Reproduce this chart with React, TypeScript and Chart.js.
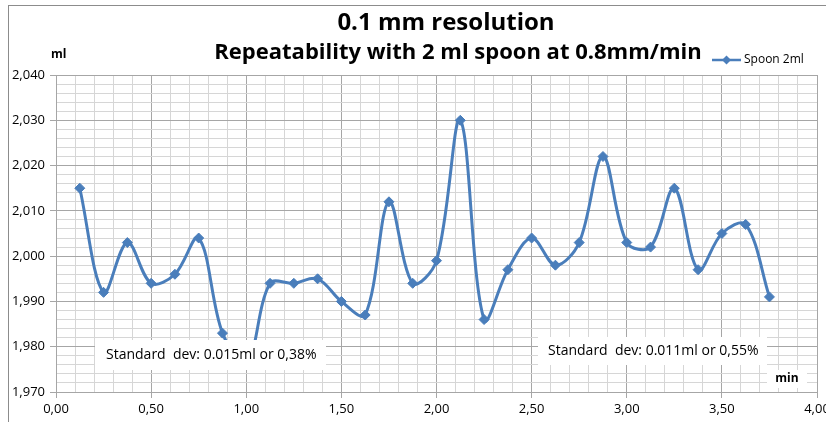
import React, { useEffect, useRef } from 'react';
import { Chart, registerables } from 'chart.js';

Chart.register(...registerables);

const times = [
  0.125, 0.25, 0.375, 0.5, 0.625, 0.75, 0.875, 1.0, 1.125, 1.25,
  1.375, 1.5, 1.625, 1.75, 1.875, 2.0, 2.125, 2.25, 2.375, 2.5,
  2.625, 2.75, 2.875, 3.0, 3.125, 3.25, 3.375, 3.5, 3.625, 3.75,
];
const volumes = [
  2.015, 1.992, 2.003, 1.994, 1.996, 2.004, 1.983, 1.976, 1.994, 1.994,
  1.995, 1.990, 1.987, 2.012, 1.994, 1.999, 2.030, 1.986, 1.997, 2.004,
  1.998, 2.003, 2.022, 2.003, 2.002, 2.015, 1.997, 2.005, 2.007, 1.991,
];
const titleLines = ['0.1 mm resolution', 'Repeatability with 2 ml spoon at 0.8mm/min'];
const seriesName = 'Spoon 2ml';
const yUnit = 'ml';
const xUnit = 'min';
const notes = ['Standard  dev: 0.015ml or 0,38%', 'Standard  dev: 0.011ml or 0,55%'];

const FONT = '"Open Sans", "Liberation Sans", sans-serif';
const BLUE = '#4a7ebb';
const MAJOR = '#a6a6a6';
const MINOR = '#d6d6d6';

const isMajorX = (v: number) => Math.round(v * 10) % 5 === 0;
const isMajorY = (v: number) => Math.round(v * 1000) % 10 === 0;

export default function App() {
  const ref = useRef<HTMLCanvasElement | null>(null);

  useEffect(() => {
    document.body.style.margin = '0';
    const canvas = ref.current;
    if (!canvas) return;

    const overlay = {
      id: 'overlay',
      afterDraw(chart: any) {
        const ctx = chart.ctx as CanvasRenderingContext2D;
        ctx.save();
        // outer frame
        ctx.strokeStyle = '#8c8c8c';
        ctx.lineWidth = 1;
        ctx.strokeRect(8.5, 5.5, 1000, 1000);

        // title
        ctx.fillStyle = '#000';
        ctx.textAlign = 'center';
        ctx.textBaseline = 'middle';
        ctx.font = `bold 24px ${FONT}`;
        ctx.fillText(titleLines[0], 446, 23);
        ctx.font = `bold 22px ${FONT}`;
        ctx.fillText(titleLines[1], 458, 53);

        // legend
        ctx.strokeStyle = BLUE;
        ctx.lineWidth = 2.5;
        ctx.beginPath();
        ctx.moveTo(712, 60);
        ctx.lineTo(741, 60);
        ctx.stroke();
        ctx.fillStyle = BLUE;
        ctx.beginPath();
        ctx.moveTo(726.5, 55.5);
        ctx.lineTo(731, 60);
        ctx.lineTo(726.5, 64.5);
        ctx.lineTo(722, 60);
        ctx.closePath();
        ctx.fill();
        ctx.fillStyle = '#000';
        ctx.textAlign = 'left';
        ctx.font = `12px ${FONT}`;
        ctx.fillText(seriesName, 744, 60);

        // y unit
        ctx.font = `bold 12px ${FONT}`;
        ctx.fillText(yUnit, 51, 55);

        // notes
        ctx.font = `14px ${FONT}`;
        ctx.fillStyle = '#fff';
        ctx.fillRect(95, 340, 231, 30);
        ctx.fillRect(538, 337, 229, 28);
        ctx.fillStyle = '#000';
        ctx.fillText(notes[0], 106, 355);
        ctx.fillText(notes[1], 548, 351);

        // x unit
        ctx.fillStyle = '#fff';
        ctx.fillRect(767, 370, 40, 18);
        ctx.fillStyle = '#000';
        ctx.font = `bold 12px ${FONT}`;
        ctx.textAlign = 'center';
        ctx.fillText(xUnit, 787, 379);
        ctx.restore();
      },
    };

    const chart = new Chart(canvas, {
      type: 'line',
      data: {
        datasets: [
          {
            label: seriesName,
            data: times.map((t, i) => ({ x: t, y: volumes[i] })),
            borderColor: BLUE,
            backgroundColor: BLUE,
            borderWidth: 3,
            tension: 0.35,
            pointStyle: 'rectRot',
            pointRadius: 5,
            pointBackgroundColor: BLUE,
            pointBorderColor: BLUE,
            pointBorderWidth: 1,
            clip: false as any,
          },
        ],
      },
      options: {
        animation: false,
        responsive: false,
        devicePixelRatio: 1,
        layout: { padding: { top: 75, left: 0, right: 9, bottom: 0 } },
        plugins: {
          legend: { display: false },
          title: { display: false },
          tooltip: { enabled: false },
        },
        scales: {
          x: {
            type: 'linear',
            min: 0,
            max: 4,
            afterFit: (s: any) => { s.height = 30; s.paddingRight = 0; s.paddingLeft = 0; },
            border: { color: MAJOR, width: 1 },
            grid: {
              color: (c: any) => (c.tick && isMajorX(c.tick.value) ? MAJOR : MINOR),
              tickColor: (c: any) => (c.tick && isMajorX(c.tick.value) ? MAJOR : 'rgba(0,0,0,0)'),
              tickLength: 6,
              lineWidth: 1,
            },
            ticks: {
              stepSize: 0.1,
              autoSkip: false,
              maxRotation: 0,
              padding: 3,
              color: '#000',
              font: { family: FONT, size: 13 },
              callback: (v: any) => (isMajorX(Number(v)) ? Number(v).toFixed(2).replace('.', ',') : ''),
            },
          },
          y: {
            type: 'linear',
            min: 1.97,
            max: 2.04,
            afterFit: (s: any) => { s.width = 56; s.paddingTop = 0; s.paddingBottom = 0; },
            border: { color: MAJOR, width: 1 },
            grid: {
              color: (c: any) => (c.tick && isMajorY(c.tick.value) ? MAJOR : MINOR),
              tickColor: (c: any) => (c.tick && isMajorY(c.tick.value) ? MAJOR : 'rgba(0,0,0,0)'),
              tickLength: 6,
              lineWidth: 1,
            },
            ticks: {
              stepSize: 0.002,
              autoSkip: false,
              padding: 5,
              color: '#000',
              font: { family: FONT, size: 13 },
              callback: (v: any) => (isMajorY(Number(v)) ? Number(v).toFixed(3).replace('.', ',') : ''),
            },
          },
        },
      },
      plugins: [overlay],
    });

    return () => chart.destroy();
  }, []);

  return (
    <div style={{ width: 826, height: 422, background: '#fff' }}>
      <canvas ref={ref} width={826} height={422} style={{ display: 'block' }} />
    </div>
  );
}
